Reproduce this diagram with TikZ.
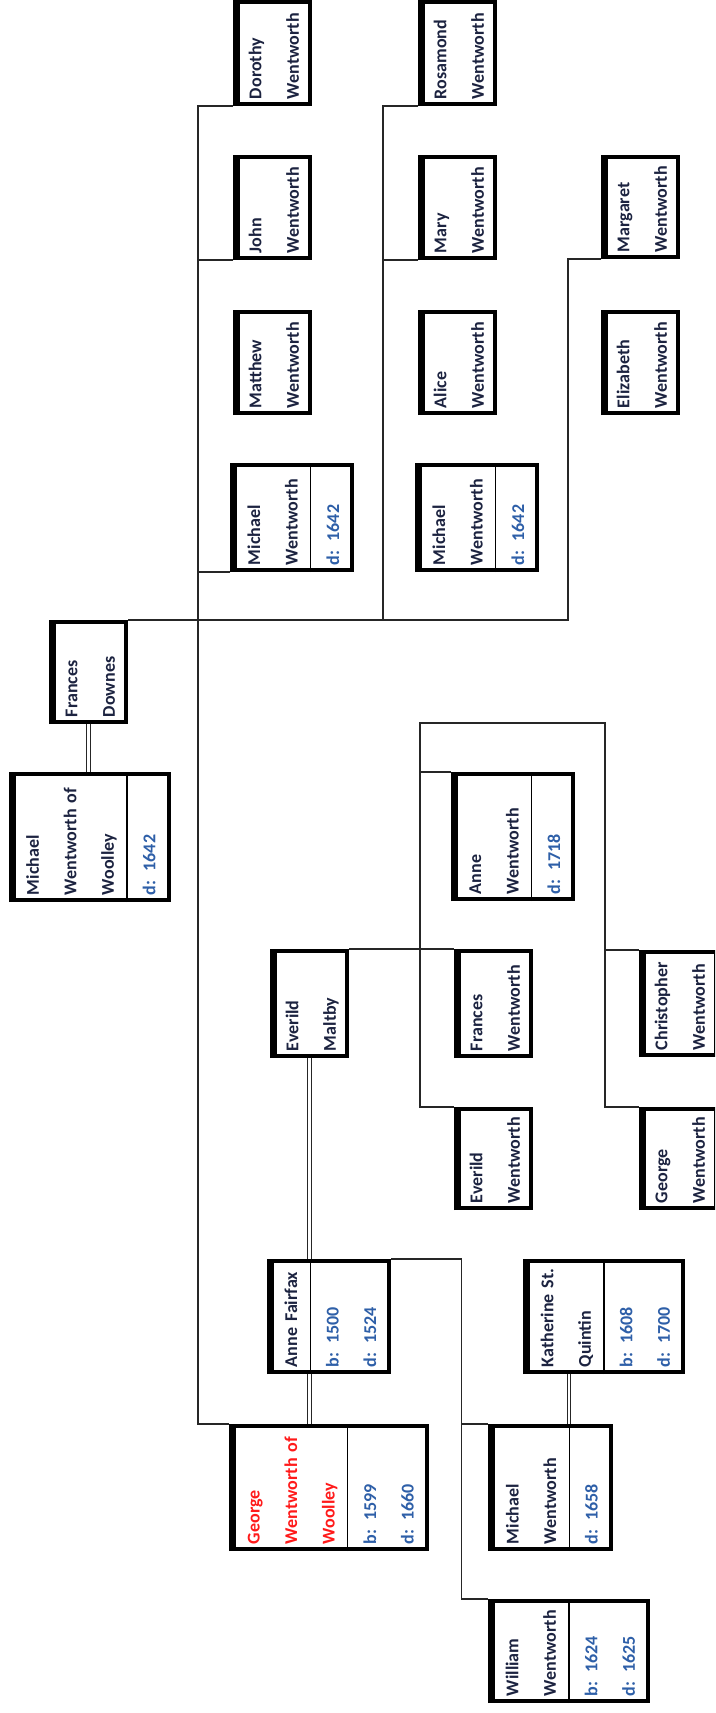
\documentclass[tikz,border=0pt]{standalone}
\usepackage{fontspec}
\setmainfont{Carlito}
\usetikzlibrary{shapes.multipart}
\definecolor{fwnome}{HTML}{1C2340}
\definecolor{fwdata}{HTML}{2E5FA8}
\definecolor{fwdestaque}{HTML}{FF1A1A}
\newcommand{\fwfont}{\fontsize{18}{37.5}\selectfont\bfseries}
\tikzset{
  fwbox/.style={draw=black, line width=4pt, fill=white, rotate=90, align=left,
                inner xsep=5pt, inner ysep=0pt, font=\fwfont, text=fwnome, text width=#1},
  fwbox/.default=91pt,
  fwboxd/.style={fwbox=#1, rectangle split, rectangle split parts=2,
                 rectangle split draw splits=false},
  fwboxd/.default=95pt,
  fwlink/.style={line width=1.3pt, draw=black!85},
  fwwed/.style={double, double distance=2.4pt, line width=0.9pt, draw=black!85},
  fwdiv/.style={line width=1.3pt, draw=black},
  fwedge/.style={line width=7pt, draw=black},
}
\begin{document}
\begin{tikzpicture}[x=1pt,y=-1pt]
  \path[use as bounding box, clip] (0,0) rectangle (715,1713);
  % first generation
  \node[fwboxd=116] (mwoolley) at (89.5,837) {\strut Michael\\\strut Wentworth of\\\strut Woolley\nodepart{two}\color{fwdata}\strut d: 1642};
  \node[fwbox=90] (fdownes) at (88.5,672) {\strut Frances\\\strut Downes};
  % their children
  \node[fwbox=92] (dorothy) at (272.5,53) {\strut Dorothy\\\strut Wentworth};
  \node[fwbox] (john) at (272.5,207.5) {\strut John\\\strut Wentworth};
  \node[fwbox] (matthew) at (272.5,362.5) {\strut Matthew\\\strut Wentworth};
  \node[fwboxd] (michaela) at (292,517.5) {\strut Michael\\\strut Wentworth\nodepart{two}\color{fwdata}\strut d: 1642};
  \node[fwbox=92] (rosamond) at (457.5,53) {\strut Rosamond\\\strut Wentworth};
  \node[fwbox] (mary) at (457.5,207.5) {\strut Mary\\\strut Wentworth};
  \node[fwbox] (alice) at (457.5,362.5) {\strut Alice\\\strut Wentworth};
  \node[fwboxd] (michaelb) at (477,517.5) {\strut Michael\\\strut Wentworth\nodepart{two}\color{fwdata}\strut d: 1642};
  \node[fwbox=90] (margaret) at (640.5,207) {\strut Margaret\\\strut Wentworth};
  \node[fwbox] (elizabeth) at (640.5,362.5) {\strut Elizabeth\\\strut Wentworth};
  % Everild Maltby and her children
  \node[fwbox=95] (emaltby) at (309.5,1003.5) {\strut Everild\\\strut Maltby};
  \node[fwboxd=115] (annew) at (513,836.5) {\strut Anne\\\strut Wentworth\nodepart{two}\color{fwdata}\strut d: 1718};
  \node[fwbox=95] (francesw) at (493.5,1003.5) {\strut Frances\\\strut Wentworth};
  \node[fwbox=89] (everildw) at (493.5,1158.5) {\strut Everild\\\strut Wentworth};
  \node[fwbox=93] (christopher) at (678.5,1003.5) {\strut Christopher\\\strut Wentworth};
  \node[fwbox=89] (georgewt) at (678.5,1158.5) {\strut George\\\strut Wentworth};
  % George of Woolley, Anne Fairfax and the next line
  \node[fwboxd=101] (afairfax) at (329,1316.5) {\strut Anne Fairfax\nodepart{two}\color{fwdata}\strut b: 1500\\\strut d: 1524};
  \node[fwboxd=113, text=fwdestaque] (gwoolley) at (329,1487.5) {\strut George\\\strut Wentworth of\\\strut Woolley\nodepart{two}\color{fwdata}\strut b: 1599\\\strut d: 1660};
  \node[fwboxd=101] (katherine) at (604,1316.5) {\strut Katherine St.\\\strut Quintin\nodepart{two}\color{fwdata}\strut b: 1608\\\strut d: 1700};
  \node[fwboxd=113] (michaelw) at (550.5,1487.5) {\strut Michael\\\strut Wentworth\nodepart{two}\color{fwdata}\strut d: 1658};
  \node[fwboxd=90] (william) at (569,1651) {\strut William\\\strut Wentworth\nodepart{two}\color{fwdata}\strut b: 1624\\\strut d: 1625};
  \foreach \n in {mwoolley,michaela,michaelb,annew,afairfax,gwoolley,katherine,michaelw,william}
    \draw[fwdiv] (\n.text split west) -- (\n.text split east);
  % heavier left edge of every box
  \foreach \n in {mwoolley,fdownes,dorothy,john,matthew,michaela,rosamond,mary,alice,michaelb,
                  margaret,elizabeth,emaltby,annew,francesw,everildw,christopher,georgewt,
                  afairfax,gwoolley,katherine,michaelw,william}
    \draw[fwedge] ([xshift=3.5pt]\n.north west) -- ([xshift=3.5pt]\n.north east);
  % connectors
  \path (dorothy.north west) ++(-35,0) coordinate (fwtronco);
  \path (rosamond.north west) ++(-35,0) coordinate (fwramo);
  \coordinate (fwesq) at (420,723);
  \coordinate (fwdir) at (605,723);
  \draw[fwlink] (dorothy.north west) -- (fwtronco) |- (gwoolley.north east);
  \draw[fwlink] (john.north west) -- (john.north west -| fwtronco);
  \draw[fwlink] (michaela.north west) -- (michaela.north west -| fwtronco);
  \draw[fwlink] (rosamond.north west) -- (fwramo) |- (fdownes.south east);
  \draw[fwlink] (mary.north west) -- (mary.north west -| fwramo);
  \draw[fwlink] (fdownes.south east) -| ([xshift=-33pt]margaret.north west) -- (margaret.north west);
  \draw[fwlink] (emaltby.south east) -- (francesw.north east);
  \draw[fwlink] (everildw.north east) -| (fwesq) -- (fwdir) |- (georgewt.north east);
  \draw[fwlink] (annew.north east) -- (annew.north east -| fwesq);
  \draw[fwlink] (christopher.north east) -- (christopher.north east -| fwdir);
  \draw[fwlink] (afairfax.south east) -- ++(70,0) coordinate (fwfilhos) |- (william.north east);
  \draw[fwlink] (michaelw.north east) -- (michaelw.north east -| fwfilhos);
  % marriages
  \draw[fwwed] (fdownes.west) -- (fdownes.west |- mwoolley.east);
  \draw[fwwed] (emaltby.west) -- (emaltby.west |- afairfax.east);
  \draw[fwwed] (emaltby.west |- afairfax.west) -- (emaltby.west |- gwoolley.east);
  \draw[fwwed] (michaelw.text split east) -- (michaelw.text split east |- katherine.west);
\end{tikzpicture}
\end{document}
